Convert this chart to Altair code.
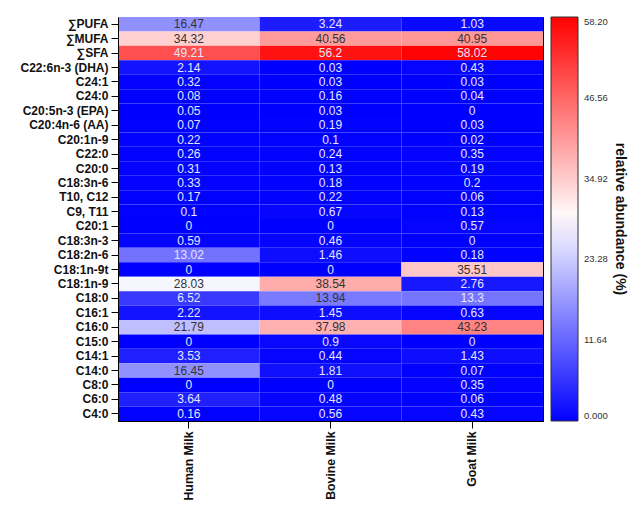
import altair as alt
import pandas as pd

rows = ["∑PUFA", "∑MUFA", "∑SFA", "C22:6n-3 (DHA)", "C24:1", "C24:0",
        "C20:5n-3 (EPA)", "C20:4n-6 (AA)", "C20:1n-9", "C22:0", "C20:0",
        "C18:3n-6", "T10, C12", "C9, T11", "C20:1", "C18:3n-3", "C18:2n-6",
        "C18:1n-9t", "C18:1n-9", "C18:0", "C16:1", "C16:0", "C15:0", "C14:1",
        "C14:0", "C8:0", "C6:0", "C4:0"]
samples = ["Human Milk", "Bovine Milk", "Goat Milk"]
human = [16.47, 34.32, 49.21, 2.14, 0.32, 0.08, 0.05, 0.07, 0.22, 0.26, 0.31,
         0.33, 0.17, 0.1, 0, 0.59, 13.02, 0, 28.03, 6.52, 2.22, 21.79, 0,
         3.53, 16.45, 0, 3.64, 0.16]
bovine = [3.24, 40.56, 56.2, 0.03, 0.03, 0.16, 0.03, 0.19, 0.1, 0.24, 0.13,
          0.18, 0.22, 0.67, 0, 0.46, 1.46, 0, 38.54, 13.94, 1.45, 37.98, 0.9,
          0.44, 1.81, 0, 0.48, 0.56]
goat = [1.03, 40.95, 58.02, 0.43, 0.03, 0.04, 0, 0.03, 0.02, 0.35, 0.19, 0.2,
        0.06, 0.13, 0.57, 0, 0.18, 35.51, 2.76, 13.3, 0.63, 43.23, 0, 1.43,
        0.07, 0.35, 0.06, 0.43]
legend_ticks = [0, 11.64, 23.28, 34.92, 46.56, 58.2]

recs = []
for s, vals in zip(samples, [human, bovine, goat]):
    for r, v in zip(rows, vals):
        recs.append({"sample": s, "fa": r, "value": v, "label": f"{v:g}"})
df = pd.DataFrame(recs)

font = "Liberation Sans"

base = alt.Chart(df).encode(
    x=alt.X("sample:N", sort=samples, title=None,
            axis=alt.Axis(labelAngle=270, labelAlign="right", labelBaseline="middle",
                          labelFont=font, labelFontWeight="bold", labelFontSize=12.3,
                          labelColor="#111", tickColor="#000", tickSize=7,
                          domainColor="#000", labelPadding=3)),
    y=alt.Y("fa:N", sort=rows, title=None,
            axis=alt.Axis(labelFont=font, labelFontWeight="bold", labelFontSize=12,
                          labelColor="#111", tickColor="#000", tickSize=7,
                          domainColor="#000", labelPadding=3)),
)

rect = base.mark_rect().encode(
    color=alt.Color("value:Q",
                    scale=alt.Scale(domain=[0, 29.1, 58.2],
                                    range=["#0000ff", "#ffffff", "#ff0000"],
                                    interpolate="rgb"),
                    legend=alt.Legend(title="relative abundance (%)",
                                      values=legend_ticks,
                                      labelExpr="datum.value == 0 ? '0.000' : format(datum.value, '.2f')",
                                      gradientLength=404, gradientThickness=27,
                                      gradientStrokeColor="#333", gradientStrokeWidth=1,
                                      labelFont=font, labelFontSize=9.5, labelColor="#333",
                                      labelOffset=6,
                                      titleOrient="right",
                                      titleFont=font, titleFontSize=14,
                                      titleFontWeight="bold", titleColor="#111",
                                      titleAnchor="middle", titlePadding=5,
                                      offset=8, padding=0))
)

text = base.mark_text(font=font, fontSize=12).encode(
    text="label:N",
    color=alt.condition(
        "datum.value > 13.5 && datum.value < 47",
        alt.value("#333333"), alt.value("#e6e6ff")),
)

chart = (rect + text).properties(
    width=425, height=404,
    autosize=alt.AutoSizeParams(type="none"),
    padding={"left": 110, "top": 9, "right": 86, "bottom": 80},
).configure_view(stroke="#000", strokeWidth=1).configure_scale(bandPaddingInner=0)

chart.save("out.html", embed_options={"renderer": "svg", "actions": False})
